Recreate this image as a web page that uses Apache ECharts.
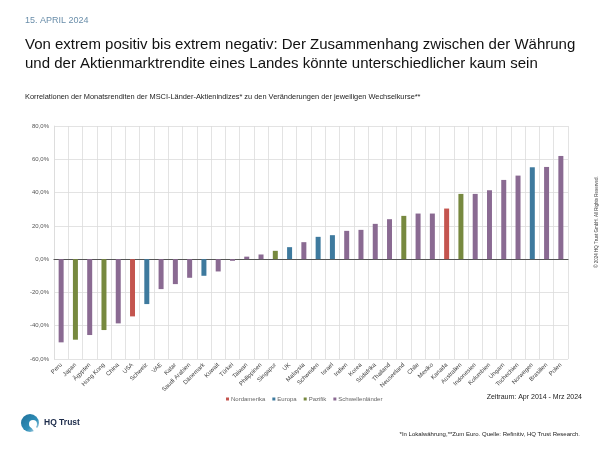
<!DOCTYPE html>
<html>
<head>
<meta charset="utf-8">
<script src="https://cdn.jsdelivr.net/npm/echarts@6/dist/echarts.min.js"></script>
<style>
html,body{margin:0;padding:0;background:#fff;}
#c{width:600px;height:450px;}
</style>
</head>
<body>
<div id="c"></div>
<script>
var categories = ['Peru','Japan','Ägypten','Hong Kong','China','USA','Schweiz','VAE','Katar','Saudi Arabien','Dänemark','Kuwait','Türkei','Taiwan','Philippinen','Singapur','UK','Malaysia','Schweden','Israel','Indien','Korea','Südafrika','Thailand','Neuseeland','Chile','Mexiko','Kanada','Australien','Indonesien','Kolumbien','Ungarn','Tschechien','Norwegen','Brasilien','Polen'];
var values = [-50.0,-48.4,-45.6,-42.6,-38.6,-34.4,-27.0,-18.0,-15.0,-11.2,-10.0,-7.4,-1.0,1.5,2.8,5.0,7.2,10.2,13.4,14.4,17.0,17.6,21.2,24.0,26.0,27.4,27.4,30.4,39.2,39.2,41.4,47.6,50.2,55.2,55.4,62.0];
var regions = ['S','P','S','P','S','N','E','S','S','S','E','S','S','S','S','P','E','S','E','E','S','S','S','S','P','S','S','N','P','S','S','S','S','E','S','S'];
var seriesNames = ['Nordamerika','Europa','Pazifik','Schwellenländer'];
var seriesKeys = ['N','E','P','S'];
var seriesColors = ['#c4554f','#3e7a9e','#77893f','#8a6a92'];
var yTicks = {min:-60, max:80, interval:20};

var chart = echarts.init(document.getElementById('c'));
var FONT = '"Liberation Sans", Arial, sans-serif';

var series = seriesKeys.map(function(k, si){
  return {
    name: seriesNames[si],
    type: 'bar',
    stack: 'all',
    barWidth: 5,
    itemStyle: {color: seriesColors[si]},
    data: values.map(function(v, i){ return regions[i] === k ? v : '-'; })
  };
});

chart.setOption({
  animation: false,
  textStyle: {fontFamily: FONT},
  grid: {left: 54, right: 32, top: 126, bottom: 91, containLabel: false, outerBoundsMode: 'none'},
  legend: {
    data: seriesNames,
    left: 221, top: 391,
    itemWidth: 3, itemHeight: 3, itemGap: 7,
    icon: 'rect',
    textStyle: {fontSize: 6, color: '#666', padding: [0,0,0,-3]}
  },
  xAxis: {
    type: 'category',
    data: categories,
    axisTick: {show: false},
    axisLine: {onZero: true, lineStyle: {color: '#555', width: 1.2}},
    splitLine: {show: true, lineStyle: {color: '#dcdcdc', width: 0.8}},
    axisLabel: {rotate: 45, fontSize: 6, color: '#444', interval: 0, margin: 5, fontFamily: FONT}
  },
  yAxis: {
    type: 'value',
    min: yTicks.min, max: yTicks.max, interval: yTicks.interval,
    axisLine: {show: true, lineStyle: {color: '#dcdcdc', width: 0.8}},
    axisTick: {show: false},
    splitLine: {lineStyle: {color: '#dcdcdc', width: 0.8}},
    axisLabel: {fontSize: 6, color: '#555', margin: 5, fontFamily: FONT,
      formatter: function(v){ return v.toFixed(1).replace('.', ',') + '%'; }}
  },
  series: series,
  graphic: [
    {type:'text', left:25, top:16, style:{text:'15. APRIL 2024', font:'9px '+FONT, fill:'#6a8eaa'}},
    {type:'text', left:25, top:35, style:{text:'Von extrem positiv bis extrem negativ: Der Zusammenhang zwischen der Währung\nund der Aktienmarktrendite eines Landes könnte unterschiedlicher kaum sein', font:'15px '+FONT, fill:'#111', lineHeight:19}},
    {type:'text', left:25, top:93, style:{text:'Korrelationen der Monatsrenditen der MSCI-Länder-Aktienindizes* zu den Veränderungen der jeweiligen Wechselkurse**', font:'7.4px '+FONT, fill:'#222'}},
    {type:'text', right:18, top:394, style:{text:'Zeitraum: Apr 2014 - Mrz 2024', font:'7px '+FONT, fill:'#222'}},
    {type:'text', right:20, top:431, style:{text:'*In Lokalwährung,**Zum Euro. Quelle: Refinitiv, HQ Trust Research.', font:'6px '+FONT, fill:'#222'}},
    {type:'text', x:597, y:222, rotation:Math.PI/2, style:{text:'© 2024 HQ Trust GmbH. All Rights Reserved.', font:'4.5px '+FONT, fill:'#444', align:'center', verticalAlign:'middle'}},
    {type:'circle', shape:{cx:30, cy:423, r:9}, style:{fill:{type:'linear', x:0, y:0, x2:1, y2:1, colorStops:[{offset:0,color:'#1f6f99'},{offset:0.6,color:'#2f8fb8'},{offset:1,color:'#cfe3ee'}]}}},
    {type:'circle', shape:{cx:33, cy:424, r:4}, style:{fill:'#fff'}},
    {type:'polygon', shape:{points:[[33,424],[41,432],[36,434],[30,426]]}, style:{fill:'#fff'}},
    {type:'text', left:44, top:418, style:{text:'HQ Trust', font:'bold 8.5px '+FONT, fill:'#1c2b4a'}}
  ]
});
</script>
</body>
</html>
